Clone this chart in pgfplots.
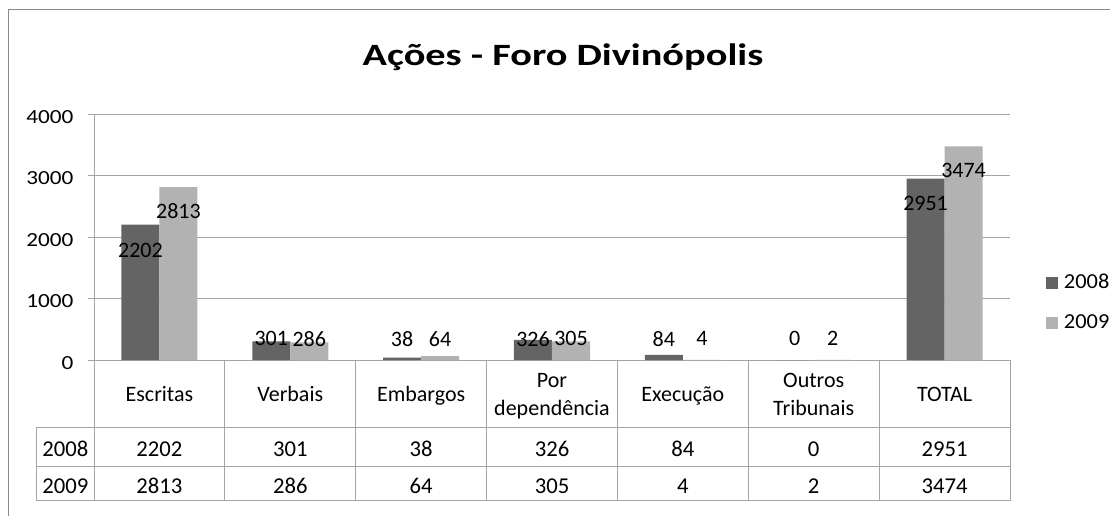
\documentclass[border=0pt]{standalone}
\usepackage{pgfplots}
\pgfplotsset{compat=1.18}
\usepackage{fontspec}
\setmainfont{Carlito}[Numbers=Lining]
\newfontfamily\titlefont{Carlito}[FakeStretch=1.3, Numbers=Lining]
\newfontfamily\tickfont{Carlito}[FakeStretch=1.16, Numbers=Lining]
\newfontfamily\legfont{Carlito}[FakeStretch=1.05, Numbers=Lining]
\definecolor{dark}{RGB}{100,100,100}
\definecolor{light}{RGB}{178,178,178}
\definecolor{gridc}{RGB}{165,165,165}
\definecolor{framec}{RGB}{137,137,137}
\pgfplotsset{sqlegend/.style={legend image code/.code={\fill[##1] (0pt,-4.5pt) rectangle (9pt,4.5pt); \path (11.25pt,0pt);}}}
\begin{document}
\begin{tikzpicture}[x=0.75pt,y=-0.75pt]
\path[use as bounding box] (0,0) rectangle (1110,515);
\begin{axis}[
  at={(70.5pt,-270pt)}, anchor=south west,
  scale only axis, width=687pt, height=184.5pt,
  xmin=-0.5, xmax=6.5, ymin=0, ymax=4000,
  ytick={0,1000,2000,3000,4000},
  xtick={0,1,2,3,4,5,6},
  xticklabels={\strut Escritas,\strut Verbais,\strut Embargos,{\strut Por\\\strut dependência},\strut Execução,{\strut Outros\\\strut Tribunais},\strut TOTAL},
  xticklabel style={align=center, anchor=center, inner sep=0pt, yshift=-22.65pt, font=\fontsize{16.5pt}{21pt}\selectfont},
  xtick style={draw=none},
  axis x line*=bottom, axis y line*=left,
  axis line style={gridc, line width=0.75pt},
  tick align=outside, major tick length=4.5pt,
  ytick style={gridc, line width=0.75pt},
  ymajorgrids, grid style={gridc, line width=0.75pt},
  yticklabel style={font=\fontsize{15pt}{18pt}\tickfont, xshift=-7.5pt, yshift=-2.25pt},
  /pgf/number format/assume math mode=true,
  /pgf/number format/set thousands separator={},
  scaled y ticks=false,
  legend style={at={(axis description cs:1.0393,0.2338)}, anchor=west, draw=none, fill=none, inner sep=0pt, row sep=14pt, font=\fontsize{16pt}{19pt}\legfont},
  legend cell align=left,
  clip=false,
]
\addlegendimage{sqlegend, fill=dark, draw=none}
\addlegendimage{sqlegend, fill=light, draw=none}
\addplot[ybar, bar width=28.5pt, bar shift=-14.25pt, fill=dark, draw=none, forget plot]
  coordinates {(0,2202) (1,301) (2,38) (3,326) (4,84) (5,0) (6,2951)};
\addplot[ybar, bar width=28.5pt, bar shift=14.25pt, fill=light, draw=none, forget plot]
  coordinates {(0,2813) (1,286) (2,64) (3,305) (4,4) (5,2) (6,3474)};
% data labels
\addplot[draw=none, mark=none, forget plot, nodes near coords, point meta=explicit symbolic,
  every node near coord/.append style={anchor=center, inner sep=0pt, font=\fontsize{16.5pt}{19pt}\selectfont}]
  coordinates {(-0.1452,1777)[2202] (0.8548,345)[301] (1.8548,345)[38] (2.8548,345)[326] (3.8548,345)[84] (4.8548,345)[0] (5.8548,2553)[2951]};
\addplot[draw=none, mark=none, forget plot, nodes near coords, point meta=explicit symbolic,
  every node near coord/.append style={anchor=center, inner sep=0pt, font=\fontsize{16.5pt}{19pt}\selectfont}]
  coordinates {(0.1452,2428)[2813] (1.1452,345)[286] (2.1452,345)[64] (3.1452,345)[305] (4.1452,345)[4] (5.1452,345)[2] (6.1452,3089)[3474]};
\legend{2008,2009}
\end{axis}
% chart frame
\draw[framec, line width=0.75pt] (8,530) -- (8,9) -- (1130,9);
% title
\node[font=\fontsize{23.25pt}{28pt}\titlefont\bfseries, anchor=base] at (563,65) {Ações - Foro Divinópolis};
% data table
\begin{scope}[gridc, line width=0.75pt]
\draw (36.7,427) -- (1010,427) (36.7,466) -- (1010,466) (36.7,500.5) -- (1010,500.5) (36.7,427) -- (36.7,500.5);
\foreach \x in {94,224.86,355.71,486.57,617.43,748.29,879.14,1010} \draw (\x,360) -- (\x,500.5);
\end{scope}
\begin{scope}[font=\fontsize{17pt}{20pt}\selectfont]
\node[anchor=base] at (65.4,456.5) {2008};
\node[anchor=base] at (65.4,493.3) {2009};
\foreach \v [count=\i from 0] in {2202,301,38,326,84,0,2951} \node[anchor=base] at (159.43+130.857*\i,456.5) {\v};
\foreach \v [count=\i from 0] in {2813,286,64,305,4,2,3474} \node[anchor=base] at (159.43+130.857*\i,493.3) {\v};
\end{scope}
\end{tikzpicture}
\end{document}
